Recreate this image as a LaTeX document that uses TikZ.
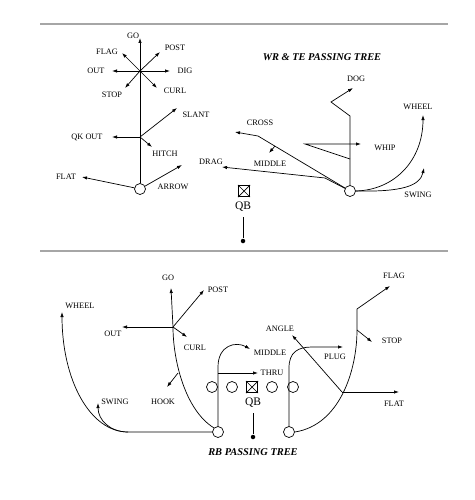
\documentclass[tikz,border=0pt]{standalone}
\usepackage{fontspec}
\setmainfont{Liberation Serif}
\usetikzlibrary{arrows.meta}
\begin{document}
\begin{tikzpicture}[x=1pt,y=-1pt,line width=0.7pt,>={Latex[length=5pt,width=3.4pt]}]
        \tikzstyle{every node}=[font=\fontsize{8.3}{9}\selectfont,inner sep=0pt];
        \tikzstyle{player}=[draw,shape=circle,minimum size=11pt];
        \tikzstyle{qbbox}=[draw,minimum size=11.5pt];
        \tikzstyle{qblabel}=[font=\fontsize{11.5}{12}\selectfont];
        \tikzstyle{snap}=[fill,shape=circle,minimum size=4.5pt];
        \tikzstyle{title}=[font=\fontsize{10.4}{11}\selectfont\bfseries\itshape];
        \tikzstyle{rule}=[draw=gray!70,line width=1.3pt];
        \useasboundingbox (0,0) rectangle (474,500);
        % rules
        \coordinate (ra) at (40,24);
        \coordinate (rb) at (448,24);
        \coordinate (rc) at (40,251);
        \coordinate (rd) at (448,251);
        \draw[rule] (ra)--(rb) (rc)--(rd);
        % wr tree, top left
        \node[player] (wr) at (140,189) {};
        \coordinate (star) at (140,71);
        \coordinate (qk) at (140,137);
        \coordinate (go1) at (140,38);
        \coordinate (flag1) at (122,53);
        \coordinate (post1) at (160,52);
        \coordinate (out1) at (112,71);
        \coordinate (dig1) at (170,71);
        \coordinate (stop1) at (125,88);
        \coordinate (curl1) at (157,88);
        \coordinate (qkout1) at (112,137);
        \coordinate (slant1) at (177,108);
        \coordinate (hitch1) at (152,147);
        \coordinate (flat1) at (82,177);
        \coordinate (arrow1) at (182,165);
        \draw[->] (wr)--(go1);
        \foreach \t in {flag1,post1,out1,dig1,stop1,curl1}
            \draw[->] (star)--(\t);
        \foreach \t in {qkout1,slant1,hitch1}
            \draw[->] (qk)--(\t);
        \draw[->] (wr)--(flat1);
        \draw[->] (wr)--(arrow1);
        \node (lgo1) at (133,36) {GO};
        \node (lflag1) at (107,52) {FLAG};
        \node (lpost1) at (175,48) {POST};
        \node (lout1) at (96,71) {OUT};
        \node (ldig1) at (185,71) {DIG};
        \node (lstop1) at (112,95) {STOP};
        \node (lcurl1) at (175,91) {CURL};
        \node (lqkout1) at (87,137) {QK OUT};
        \node (lslant1) at (196,115) {SLANT};
        \node (lhitch1) at (165,154) {HITCH};
        \node (lflat1) at (66,177) {FLAT};
        \node (larrow1) at (173,187) {ARROW};
        % te tree, top right
        \node[title] (title1) at (322,57) {WR \& TE PASSING TREE};
        \node[player] (te) at (350,191) {};
        \coordinate (dogA) at (350,116);
        \coordinate (dogB) at (331,102);
        \coordinate (dog) at (353,88);
        \coordinate (whA) at (350,159);
        \coordinate (whB) at (305,144);
        \coordinate (whip) at (361,144);
        \coordinate (crA) at (258,136);
        \coordinate (cross) at (235,132);
        \coordinate (miA) at (275,146);
        \coordinate (middle) at (269,153);
        \coordinate (drA) at (325,178);
        \coordinate (drag) at (222,167);
        \coordinate (wheel) at (423,115);
        \coordinate (swing) at (424,168);
        \draw[->] (te)--(dogA)--(dogB)--(dog);
        \draw[->] (whA)--(whB)--(whip);
        \draw[->] (te)--(crA)--(cross);
        \draw[->] (miA)--(middle);
        \draw[->] (te)--(drA)--(drag);
        \draw[->] (te.east) .. controls (395,190) and (423,160) .. (wheel);
        \draw[->] (te.east) .. controls (402,192) and (420,186) .. (swing);
        \node (ldog) at (356,79) {DOG};
        \node (lwhip) at (385,148) {WHIP};
        \node (lcross) at (260,123) {CROSS};
        \node (lmiddle) at (270,164) {MIDDLE};
        \node (ldrag) at (211,162) {DRAG};
        \node (lwheel) at (418,107) {WHEEL};
        \node (lswing) at (418,195) {SWING};
        % qb, top
        \node[qbbox] (qb1) at (244,191) {};
        \draw (qb1.north west)--(qb1.south east) (qb1.north east)--(qb1.south west);
        \node[qblabel] (lqb1) at (243,207) {QB};
        \node[snap] (snap1) at (243,241) {};
        \draw (lqb1.south)++(0,5) coordinate (qbs1);
        \draw (qbs1)--(snap1);
        % rb tree, bottom
        \node[title] (title2) at (253,452) {RB PASSING TREE};
        \node[player] (rbl) at (218,432) {};
        \node[player] (rbr) at (289,432) {};
        \foreach \x/\n in {212/ol1,232/ol2,272/ol3,293/ol4}
            \node[player] (\n) at (\x,387) {};
        \node[qbbox] (qb2) at (252,387) {};
        \draw (qb2.north west)--(qb2.south east) (qb2.north east)--(qb2.south west);
        \node[qblabel] (lqb2) at (253,403) {QB};
        \node[snap] (snap2) at (253,437) {};
        \draw (lqb2.south)++(0,5) coordinate (qbs2);
        \draw (qbs2)--(snap2);
        % left back
        \coordinate (flatL) at (128,432);
        \coordinate (wheel2) at (62,312);
        \coordinate (swing2) at (98,403);
        \coordinate (goJ) at (173,327);
        \coordinate (go2) at (171,288);
        \coordinate (hookJ) at (178,373);
        \coordinate (hook2) at (167,387);
        \coordinate (out2) at (122,327);
        \coordinate (post2) at (204,290);
        \coordinate (curl2) at (187,337);
        \coordinate (thruJ) at (218,373);
        \coordinate (thru2) at (258,373);
        \coordinate (midJ) at (218,367);
        \coordinate (middle2) at (250,349);
        \draw[->] (rbl.west)--(flatL) .. controls (90,432) and (62,380) .. (wheel2);
        \draw[->] (flatL) .. controls (110,432) and (98,420) .. (swing2);
        \draw[->] (rbl.north west) .. controls (185,410) and (173,360) .. (goJ)--(go2);
        \draw[->] (hookJ)--(hook2);
        \foreach \t in {out2,post2,curl2}
            \draw[->] (goJ)--(\t);
        \draw[->] (rbl)--(midJ) .. controls (218,345) and (236,341) .. (middle2);
        \draw[->] (thruJ)--(thru2);
        \node (lgo2) at (168,278) {GO};
        \node (lpost2) at (218,290) {POST};
        \node (lout2) at (113,334) {OUT};
        \node (lcurl2) at (195,348) {CURL};
        \node (lhook2) at (163,402) {HOOK};
        \node[anchor=west] (lwheel2) at (65,306) {WHEEL};
        \node[anchor=west] (lswing2) at (101,402) {SWING};
        \node (lmiddle2) at (270,353) {MIDDLE};
        \node (lthru2) at (272,373) {THRU};
        % right back
        \coordinate (plugJ) at (289,368);
        \coordinate (plug2) at (343,347);
        \coordinate (flatJ) at (342,392);
        \coordinate (stopJ) at (357,330);
        \coordinate (flagJ) at (357,309);
        \coordinate (flag2) at (390,286);
        \coordinate (stop2) at (372,342);
        \coordinate (flat2) at (399,392);
        \coordinate (angle2) at (292,335);
        \draw[->] (rbr)--(plugJ) .. controls (289,352) and (298,347) .. (312,347)--(plug2);
        \draw[->] (rbr.east) .. controls (340,425) and (357,370) .. (stopJ)--(flagJ)--(flag2);
        \draw[->] (stopJ)--(stop2);
        \draw[->] (flatJ)--(flat2);
        \draw[->] (flatJ)--(angle2);
        \node (langle2) at (280,329) {ANGLE};
        \node (lplug2) at (335,357) {PLUG};
        \node (lflag2) at (394,276) {FLAG};
        \node (lstop2) at (392,341) {STOP};
        \node (lflat2) at (394,404) {FLAT};
    \end{tikzpicture}
\end{document}
